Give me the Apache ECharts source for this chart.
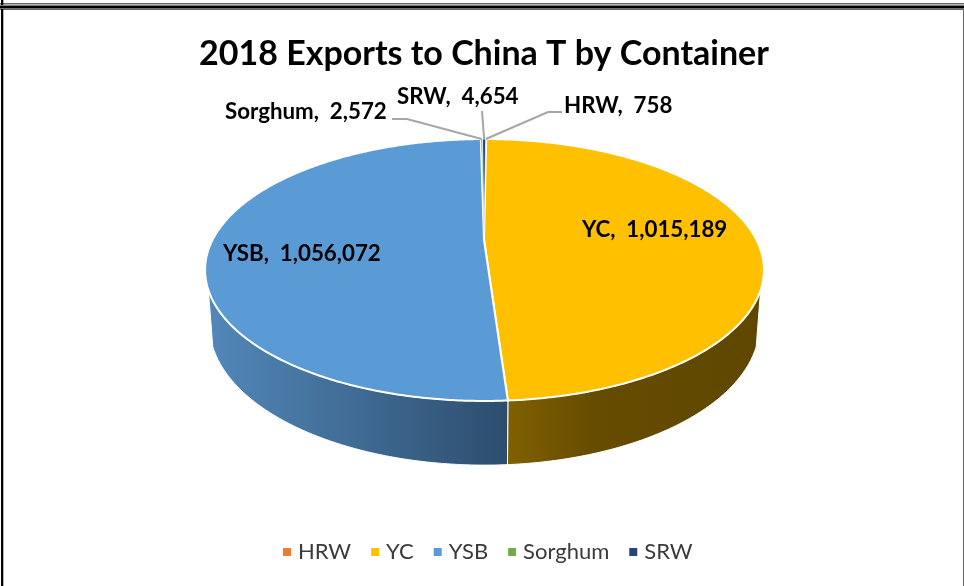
<!DOCTYPE html>
<html>
<head>
<meta charset="utf-8">
<style>html,body{margin:0;padding:0;background:#fff}#c{width:964px;height:586px}</style>
<script src="https://cdn.jsdelivr.net/npm/echarts@6/dist/echarts.min.js"></script>
</head>
<body>
<div id="c"></div>
<script>
const categories = ['HRW', 'YC', 'YSB', 'Sorghum', 'SRW'];
const values = [758, 1015189, 1056072, 2572, 4654];
const titleText = '2018 Exports to China T by Container';

const colors = ['#ed7d31', '#ffc000', '#5b9bd5', '#70ad47', '#264478'];
const wallStops = {
  YC: [[0, '#806000'], [0.35, '#664c00'], [1, '#5f4700']],
  YSB: [[0, '#5288b9'], [1, '#2d4d6d']]
};
const labelFont = 'bold 22.3px Lato, Carlito, sans-serif';
const labelSpots = {
  HRW: {x: 564, y: 106, knee: [[562, 112], [548, 112]]},
  YC: {x: 582, y: 230},
  YSB: {x: 223, y: 254},
  Sorghum: {x: 225, y: 112, knee: [[392, 119], [407, 119]]},
  SRW: {x: 397, y: 97, knee: [[482, 111]]}
};

/* Perspective disc: top rim and lower rim of the 3D pie */
const K = 0.229, CX = 484.5;
const TOP = {y0: 240, S: 124.1, R: 272};
const BOT = {y0: 293, S: 132.7, R: 267.7};
const ROT = 0.3, WALL_A = 111.7, WALL_B = 248.3;
const rad = d => d * Math.PI / 180;
function rim(p, deg) {
  const u = Math.sin(rad(deg)), v = Math.cos(rad(deg)), w = 1 + K * v;
  return [CX + p.R * u / w, p.y0 - p.S * v / w];
}
function arc(p, a, b) {
  const n = Math.max(2, Math.ceil(Math.abs(b - a) / 0.5)), out = [];
  for (let i = 0; i <= n; i++) out.push(rim(p, a + (b - a) * i / n));
  return out;
}
const total = values.reduce((s, v) => s + v, 0);
function startDeg(i) {
  let s = 0;
  for (let j = 0; j < i; j++) s += values[j];
  return ROT + s / total * 360;
}
const fmt = v => v.toLocaleString('en-US');

function makeRender(i) {
  return function (params, api) {
    const name = categories[i], v = api.value(0);
    const a = startDeg(i), b = a + v / total * 360;
    const children = [];
    const wa = Math.max(a, WALL_A), wb = Math.min(b, WALL_B);
    if (wb > wa && wallStops[name]) {
      children.push({
        type: 'polygon', z2: 1,
        shape: {points: arc(TOP, wa, wb).concat(arc(BOT, wb, wa))},
        style: {
          fill: new echarts.graphic.LinearGradient(0, 0, 1, 0,
            wallStops[name].map(s => ({offset: s[0], color: s[1]}))),
          stroke: '#ffffff', lineWidth: 1
        }
      });
    }
    children.push({
      type: 'polygon', z2: 2,
      shape: {points: [[CX - 0.5, TOP.y0]].concat(arc(TOP, a, b))},
      style: {fill: colors[i], stroke: '#ffffff', lineWidth: v / total < 0.01 ? 0.7 : 2}
    });
    const spot = labelSpots[name];
    if (spot.knee) {
      children.push({
        type: 'polyline', z2: 3,
        shape: {points: spot.knee.concat([rim(TOP, (a + b) / 2)])},
        style: {fill: 'none', stroke: '#a6a6a6', lineWidth: 2}
      });
    }
    children.push({
      type: 'text', z2: 4,
      style: {
        text: name + ',  ' + fmt(v), x: spot.x, y: spot.y,
        textAlign: 'left', textVerticalAlign: 'middle',
        font: labelFont, fill: '#000000'
      }
    });
    return {type: 'group', children};
  };
}

const chart = echarts.init(document.getElementById('c'), null, {renderer: 'canvas'});
const bar = (x, y, width, height, fill) => ({type: 'rect', silent: true, shape: {x, y, width, height}, style: {fill}});
chart.setOption({
  animation: false,
  backgroundColor: '#ffffff',
  title: {
    text: titleText, left: 194, top: 32,
    textStyle: {fontFamily: 'Lato, Carlito, sans-serif', fontWeight: 'bold', fontSize: 34, color: '#000000'}
  },
  legend: {
    data: categories, left: 278, top: 536, icon: 'rect', itemWidth: 8, itemHeight: 8, itemGap: 20,
    selectedMode: false,
    textStyle: {fontFamily: 'Lato, Carlito, sans-serif', fontSize: 22, color: '#3a3a3a', padding: [0, 0, 0, 2]}
  },
  graphic: {elements: [
    bar(0, 3, 964, 1.5, '#666666'), bar(0, 5.5, 964, 3, '#000000'), bar(0, 8.5, 964, 1.5, '#666666'),
    bar(1, 0, 2.3, 5, '#000000'), bar(1, 9, 2.3, 577, '#000000'), bar(963, 9, 1, 577, '#666666')
  ]},
  series: categories.map((name, i) => ({
    type: 'custom', name, coordinateSystem: 'none',
    itemStyle: {color: colors[i]},
    renderItem: makeRender(i),
    data: [values[i]],
    silent: true
  }))
});
</script>
</body>
</html>
